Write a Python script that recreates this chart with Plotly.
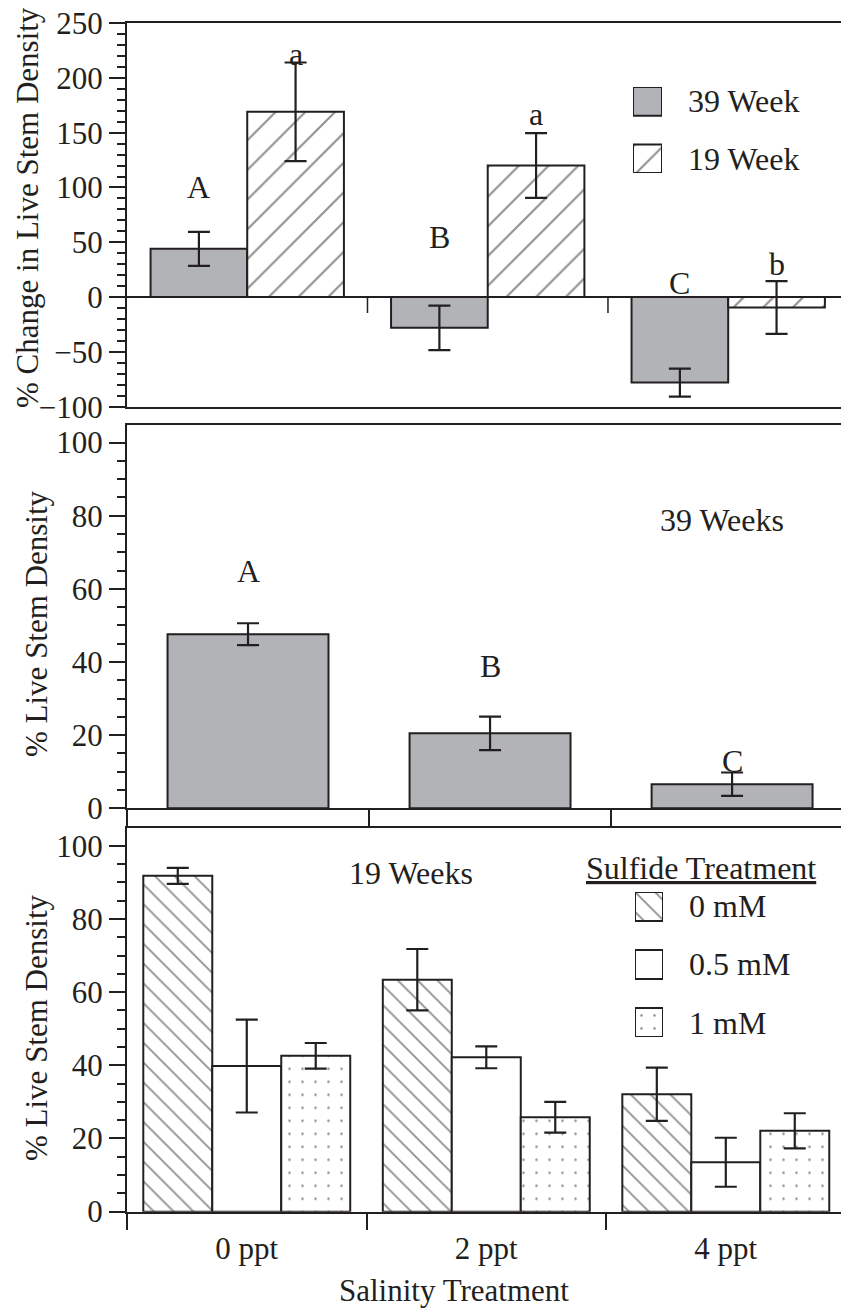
import plotly.graph_objects as go

# ---------------- data ----------------
salinity = ["0 ppt", "2 ppt", "4 ppt"]

# top panel: % change in live stem density
chg_39wk = [44, -28, -78]
chg_39wk_err = [15.5, 20.3, 12.7]
chg_19wk = [169, 120, -9.5]
chg_19wk_err = [45, 29.5, 24]
chg_letters_39 = ["A", "B", "C"]
chg_letters_39_y = [100, 55, 13]
chg_letters_19 = ["a", "a", "b"]
chg_letters_19_y = [222, 167, 30]

# middle panel: 39 weeks
live39 = [47.6, 20.5, 6.6]
live39_err = [3.0, 4.6, 3.2]
live39_letters = ["A", "B", "C"]
live39_letters_y = [65, 39, 13]

# bottom panel: 19 weeks by sulfide
sulfide = ["0 mM", "0.5 mM", "1 mM"]
live19 = {
    "0 mM": [91.8, 63.4, 32.1],
    "0.5 mM": [39.8, 42.2, 13.5],
    "1 mM": [42.6, 25.8, 22.1],
}
live19_err = {
    "0 mM": [2.2, 8.4, 7.3],
    "0.5 mM": [12.7, 3.0, 6.7],
    "1 mM": [3.5, 4.2, 4.8],
}
weeks_legend = ["39 Week", "19 Week"]

# ---------------- styles ----------------
INK = "#231f20"
GRAY = "#b1b3b6"
FONT = "Liberation Serif, Times New Roman, serif"
W, H = 841, 1315
ML = 127
PW = W - ML

xc = list(range(len(salinity)))
bounds = [i - 0.5 for i in xc]

fig = go.Figure()

err_style = dict(type="data", color=INK, thickness=2.2, width=11)
line_style = dict(color=INK, width=2)

# top panel bars
w_top = 0.402
top_series = [
    (chg_39wk, chg_39wk_err, dict(color=GRAY, line=line_style)),
    (chg_19wk, chg_19wk_err, dict(color="white", line=line_style,
                                  pattern=dict(shape="/", size=21, solidity=0.1,
                                               fgcolor=INK, bgcolor="white", fillmode="overlay"))),
]
for k, (vals, err, mk) in enumerate(top_series):
    fig.add_trace(go.Bar(x=xc, y=vals, width=w_top, offset=-w_top + k * w_top,
                         marker=mk, error_y=dict(array=err, **err_style),
                         xaxis="x", yaxis="y", showlegend=False, cliponaxis=False))

# middle panel
w_mid = 0.665
fig.add_trace(go.Bar(x=xc, y=live39, width=w_mid, offset=-w_mid / 2,
                     marker=dict(color=GRAY, line=line_style),
                     error_y=dict(array=live39_err, **err_style),
                     xaxis="x2", yaxis="y2", showlegend=False, cliponaxis=False))

# bottom panel
w_bot = 0.288
sulf_marker = {
    "0 mM": dict(color="white", line=line_style,
                 pattern=dict(shape="\\", size=14, solidity=0.13, fgcolor=INK,
                              bgcolor="white", fillmode="overlay")),
    "0.5 mM": dict(color="white", line=line_style),
    "1 mM": dict(color="white", line=line_style,
                 pattern=dict(shape=".", size=13, solidity=0.03, fgcolor=INK,
                              bgcolor="white", fillmode="overlay")),
}
for k, s in enumerate(sulfide):
    fig.add_trace(go.Bar(x=xc, y=live19[s], width=w_bot,
                         offset=-1.5 * w_bot + k * w_bot,
                         marker=sulf_marker[s],
                         error_y=dict(array=live19_err[s], **err_style),
                         xaxis="x3", yaxis="y3", showlegend=False, cliponaxis=False))

# legend swatches (own small axes)
top_leg_markers = [top_series[0][2], top_series[1][2]]
top_leg_base = [2 * (len(weeks_legend) - 1 - k) for k in range(len(weeks_legend))]
for k, name in enumerate(weeks_legend):
    fig.add_trace(go.Bar(x=[0], y=[1], base=[top_leg_base[k]], width=1,
                         marker=top_leg_markers[k], xaxis="x4", yaxis="y4",
                         showlegend=False, cliponaxis=False, hoverinfo="skip"))
bot_leg_base = [2 * (len(sulfide) - 1 - k) for k in range(len(sulfide))]
for k, s in enumerate(sulfide):
    fig.add_trace(go.Bar(x=[0], y=[1], base=[bot_leg_base[k]], width=1,
                         marker=sulf_marker[s], xaxis="x5", yaxis="y5",
                         showlegend=False, cliponaxis=False, hoverinfo="skip"))

tickfont = dict(family=FONT, size=31, color=INK)

def yax(domain, rng, minor_dtick, tickvals):
    return dict(domain=domain, range=rng, tickvals=tickvals, ticks="outside",
                ticklen=16, tickwidth=1.5, tickcolor=INK, showline=True, linewidth=2,
                linecolor=INK, showgrid=False, zeroline=False, tickfont=tickfont,
                minor=dict(dtick=minor_dtick, tick0=0, ticks="outside", ticklen=8,
                           tickwidth=1.5, tickcolor=INK, showgrid=False),
                fixedrange=True)

def xax(anchor, rng, show_labels):
    d = dict(anchor=anchor, domain=[0, 1], range=rng, showline=True, mirror=True,
             linewidth=2, linecolor=INK, showgrid=False, zeroline=False,
             fixedrange=True, tickfont=tickfont)
    if show_labels:
        d.update(tickvals=xc, ticktext=salinity, ticks="", ticklabelstandoff=8)
    else:
        d.update(tickvals=[], showticklabels=False, ticks="")
    return d

fig.update_layout(
    width=W, height=H,
    margin=dict(l=ML, r=0, t=0, b=0, autoexpand=False),
    plot_bgcolor="white", paper_bgcolor="white",
    barmode="overlay",
    font=dict(family=FONT, color=INK),
    xaxis=xax("y", [-0.5, 2.469], False),
    yaxis=yax([0.6907, 0.9825], [-100, 250], 10, list(range(-100, 251, 50))),
    xaxis2=xax("y2", [-0.5, 2.450], False),
    yaxis2=yax([0.3853, 0.6768], [0, 104.8], 5, list(range(0, 101, 20))),
    xaxis3=xax("y3", [-0.5, 2.481], True),
    yaxis3=yax([0.0786, 0.3701], [0, 104.8], 5, list(range(0, 101, 20))),
    xaxis4=dict(anchor="y4", domain=[0.7087, 0.7493], range=[-0.5, 0.5], visible=False, fixedrange=True),
    yaxis4=dict(anchor="x4", domain=[0.8684, 0.9338], range=[0, 3], visible=False, fixedrange=True),
    xaxis5=dict(anchor="y5", domain=[0.7115, 0.7507], range=[-0.5, 0.5], visible=False, fixedrange=True),
    yaxis5=dict(anchor="x5", domain=[0.2114, 0.3217], range=[0, 5], visible=False, fixedrange=True),
)
fig.update_layout(yaxis_zeroline=True, yaxis_zerolinecolor=INK, yaxis_zerolinewidth=2)
fig.update_xaxes(selector=dict(anchor="y2"),
                 minor=dict(tickvals=bounds, ticks="outside", ticklen=17, tickwidth=1.5, tickcolor=INK))
fig.update_xaxes(selector=dict(anchor="y3"),
                 minor=dict(tickvals=bounds, ticks="outside", ticklen=16, tickwidth=1.5, tickcolor=INK))

# ticks at category boundaries along the zero line (top panel)
for b in bounds[1:]:
    fig.add_shape(type="line", xref="x", yref="y", x0=b, x1=b,
                  ysizemode="pixel", yanchor=0, y0=0, y1=-16,
                  line=dict(color=INK, width=1.5))

ann_font = dict(family=FONT, size=32, color=INK)
C = dict(showarrow=False, xanchor="center", yanchor="middle")

# letters
for i in xc:
    fig.add_annotation(x=i - w_top / 2, y=chg_letters_39_y[i], xref="x", yref="y",
                       text=chg_letters_39[i], font=ann_font, **C)
    fig.add_annotation(x=i + w_top / 2, y=chg_letters_19_y[i], xref="x", yref="y",
                       text=chg_letters_19[i], font=ann_font, **C)
    fig.add_annotation(x=i, y=live39_letters_y[i], xref="x2", yref="y2",
                       text=live39_letters[i], font=ann_font, **C)

def px_x(p):
    return (p - ML) / PW

def px_y(p):
    return 1 - p / H

# panel labels
fig.add_annotation(x=px_x(722), y=px_y(520), xref="paper", yref="paper",
                   text="39 Weeks", font=ann_font, **C)
fig.add_annotation(x=px_x(411), y=px_y(873), xref="paper", yref="paper",
                   text="19 Weeks", font=ann_font, **C)

# legend labels
for k, name in enumerate(weeks_legend):
    fig.add_annotation(x=px_x(686), y=top_leg_base[k] + 0.5, xref="paper", yref="y4",
                       text=name, font=ann_font, showarrow=False,
                       xanchor="left", yanchor="middle")
fig.add_annotation(x=px_x(701), y=px_y(868), xref="paper", yref="paper",
                   text="<u>Sulfide Treatment</u>", font=ann_font, **C)
for k, s in enumerate(sulfide):
    fig.add_annotation(x=px_x(687), y=bot_leg_base[k] + 0.5, xref="paper", yref="y5",
                       text=s, font=ann_font, showarrow=False,
                       xanchor="left", yanchor="middle")

# axis titles
title_font = dict(family=FONT, size=31, color=INK)
fig.add_annotation(x=px_x(28), y=px_y(208), xref="paper", yref="paper", textangle=-90,
                   text="% Change in Live Stem Density", font=title_font, **C)
fig.add_annotation(x=px_x(36), y=px_y(624), xref="paper", yref="paper", textangle=-90,
                   text="% Live Stem Density", font=title_font, **C)
fig.add_annotation(x=px_x(36), y=px_y(1028), xref="paper", yref="paper", textangle=-90,
                   text="% Live Stem Density", font=title_font, **C)
fig.add_annotation(x=px_x(454), y=px_y(1290), xref="paper", yref="paper",
                   text="Salinity Treatment", font=title_font, **C)

fig.write_html("out.html")
